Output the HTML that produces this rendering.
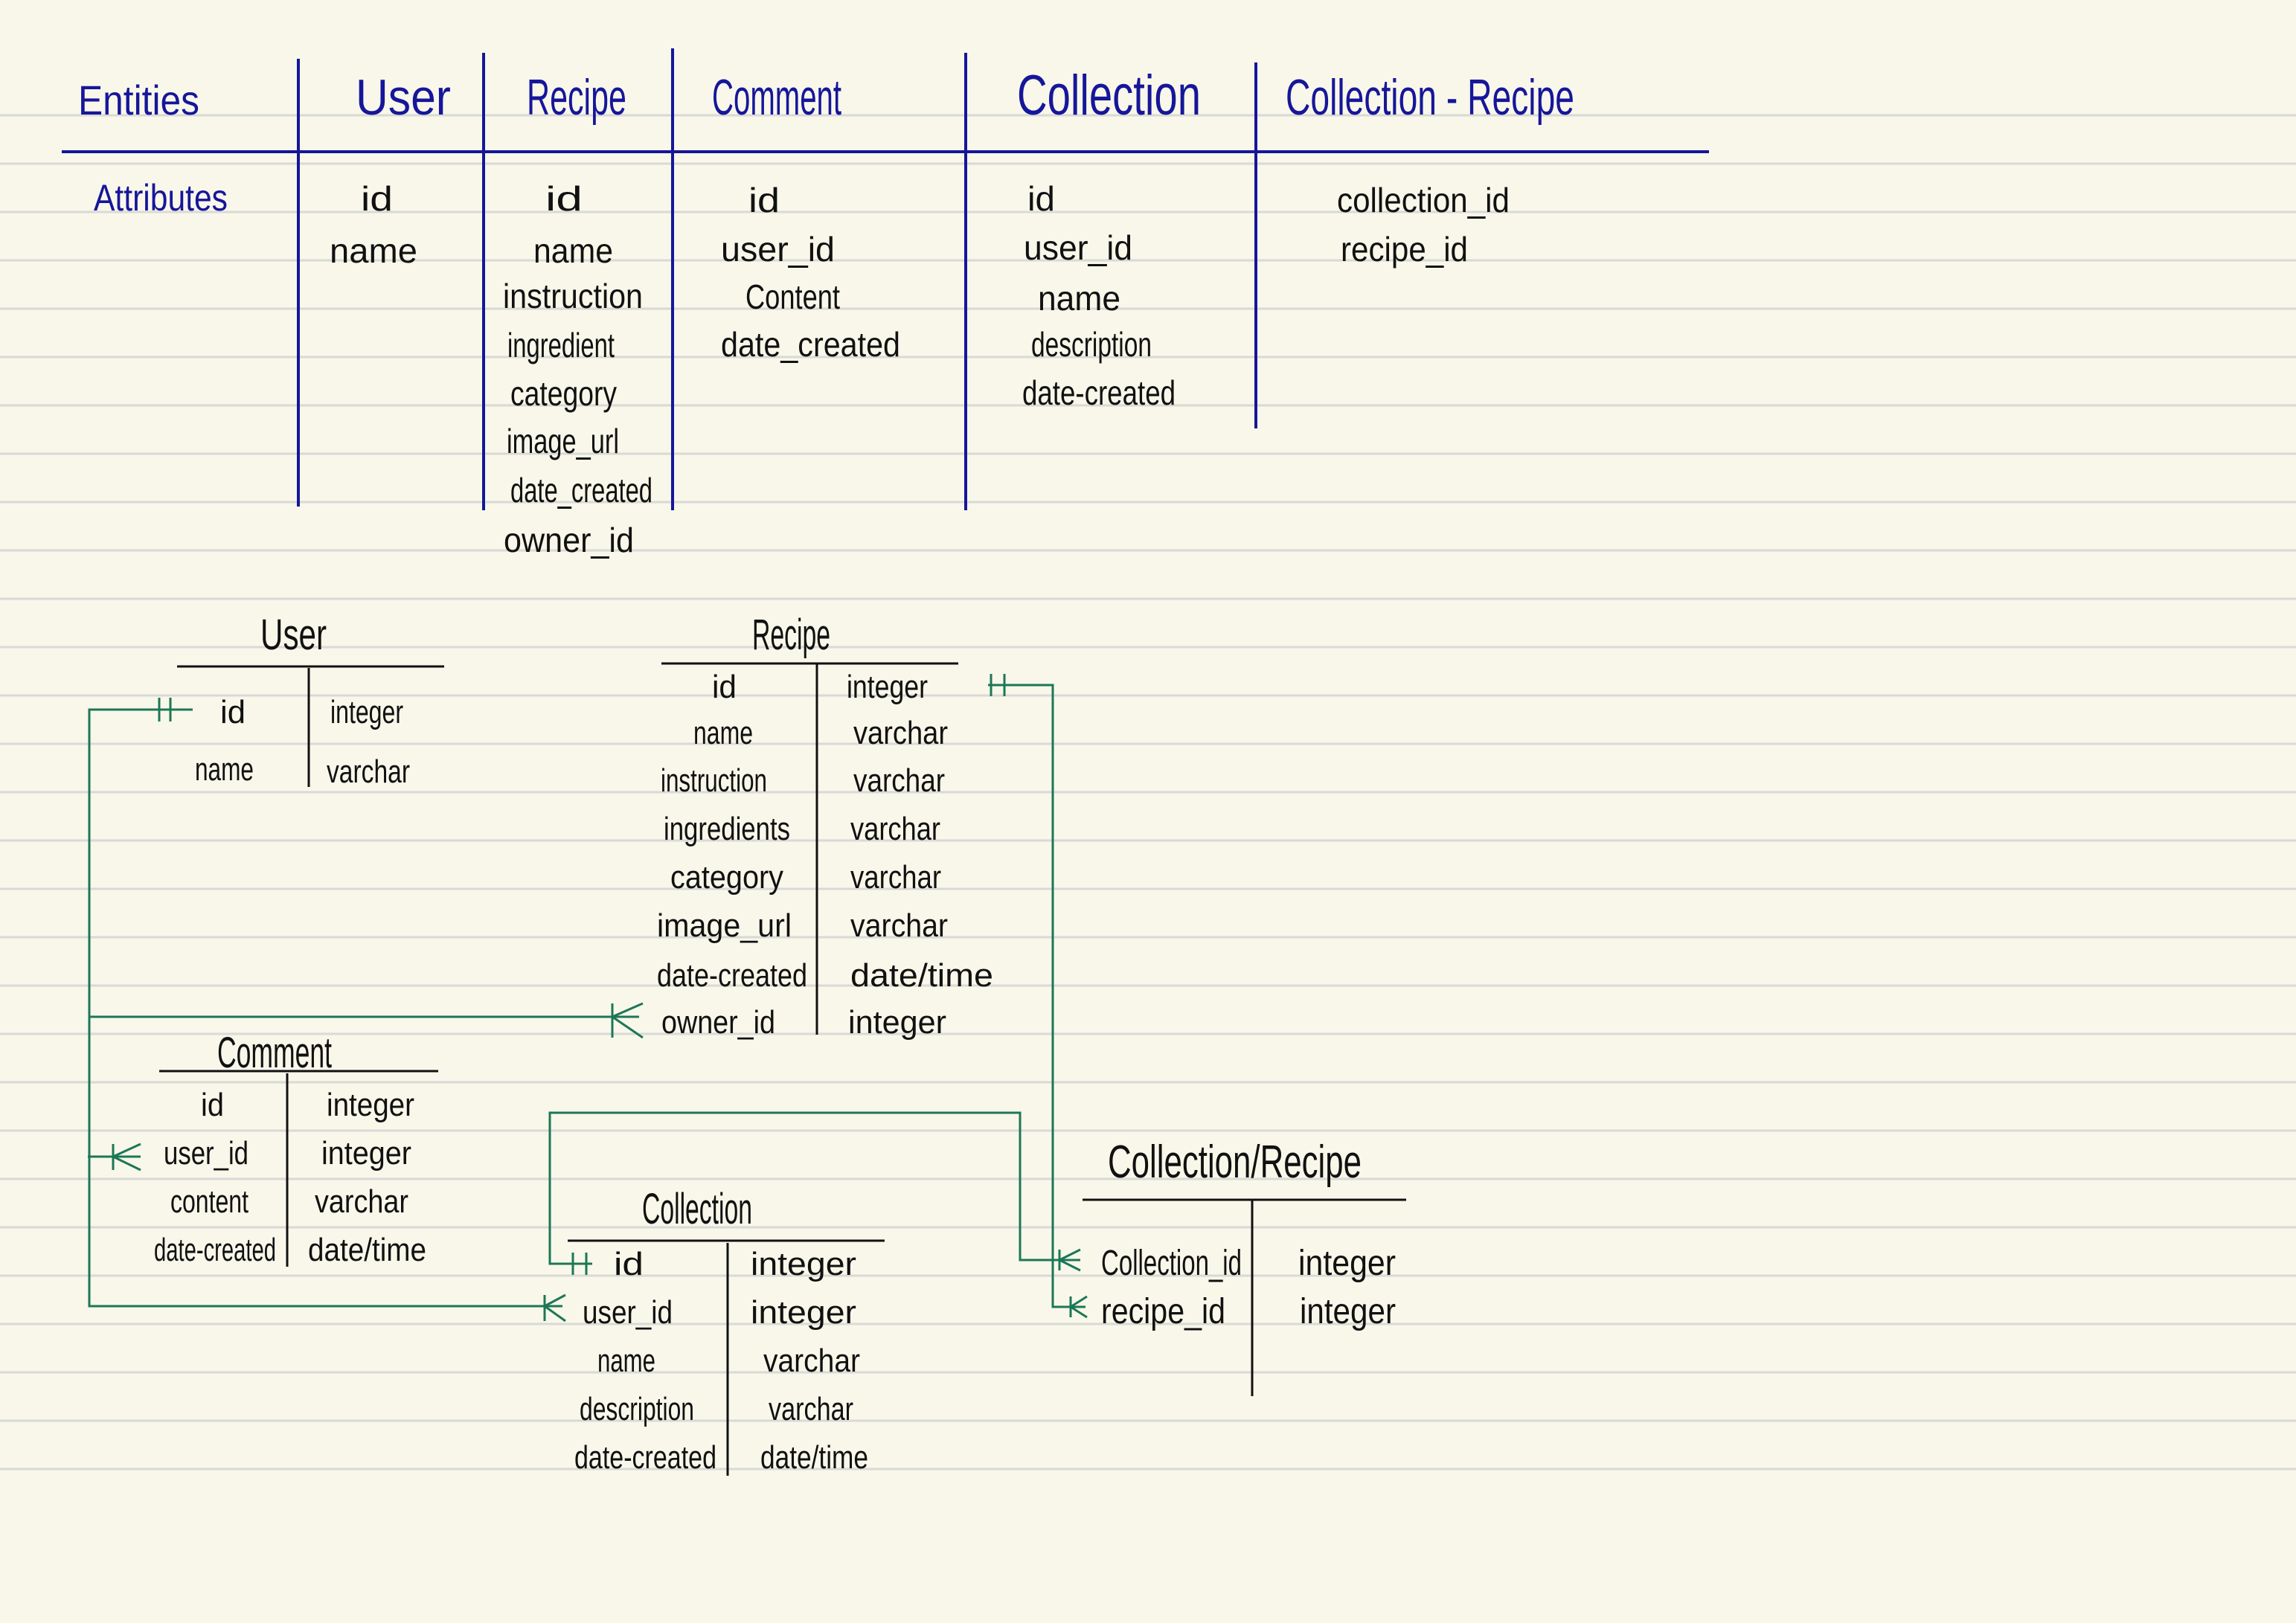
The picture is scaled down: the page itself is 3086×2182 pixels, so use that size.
<!DOCTYPE html>
<html><head><meta charset="utf-8"><style>
html,body{margin:0;padding:0;background:#f8f7ea;}
svg{display:block;}
text{font-family:"Liberation Sans","DejaVu Sans",sans-serif;}
.b{fill:#16169a;}
.k{fill:#111;}
</style></head><body>
<svg width="3086" height="2182" viewBox="0 0 3086 2182" xmlns="http://www.w3.org/2000/svg">
<rect width="3086" height="2182" fill="#f8f7ea"/>
<g stroke="#d9d9d6" stroke-width="3">
<line x1="0" y1="155" x2="3086" y2="155"/><line x1="0" y1="220" x2="3086" y2="220"/><line x1="0" y1="285" x2="3086" y2="285"/><line x1="0" y1="350" x2="3086" y2="350"/><line x1="0" y1="415" x2="3086" y2="415"/><line x1="0" y1="480" x2="3086" y2="480"/><line x1="0" y1="545" x2="3086" y2="545"/><line x1="0" y1="610" x2="3086" y2="610"/><line x1="0" y1="675" x2="3086" y2="675"/><line x1="0" y1="740" x2="3086" y2="740"/><line x1="0" y1="805" x2="3086" y2="805"/><line x1="0" y1="870" x2="3086" y2="870"/><line x1="0" y1="935" x2="3086" y2="935"/><line x1="0" y1="1000" x2="3086" y2="1000"/><line x1="0" y1="1065" x2="3086" y2="1065"/><line x1="0" y1="1130" x2="3086" y2="1130"/><line x1="0" y1="1195" x2="3086" y2="1195"/><line x1="0" y1="1260" x2="3086" y2="1260"/><line x1="0" y1="1325" x2="3086" y2="1325"/><line x1="0" y1="1390" x2="3086" y2="1390"/><line x1="0" y1="1455" x2="3086" y2="1455"/><line x1="0" y1="1520" x2="3086" y2="1520"/><line x1="0" y1="1585" x2="3086" y2="1585"/><line x1="0" y1="1650" x2="3086" y2="1650"/><line x1="0" y1="1715" x2="3086" y2="1715"/><line x1="0" y1="1780" x2="3086" y2="1780"/><line x1="0" y1="1845" x2="3086" y2="1845"/><line x1="0" y1="1910" x2="3086" y2="1910"/><line x1="0" y1="1975" x2="3086" y2="1975"/>
</g>

<!-- top table -->
<g stroke="#16169a" stroke-width="4">
<line x1="83" y1="204" x2="2297" y2="204"/>
<line x1="401" y1="79" x2="401" y2="681"/>
<line x1="650" y1="71" x2="650" y2="686"/>
<line x1="904" y1="65" x2="904" y2="686"/>
<line x1="1298" y1="71" x2="1298" y2="686"/>
<line x1="1688" y1="84" x2="1688" y2="576"/>
</g>
<g class="b" font-size="68">
<text x="105" y="154" textLength="163" lengthAdjust="spacingAndGlyphs" font-size="56">Entities</text>
<text x="478" y="154" textLength="128" lengthAdjust="spacingAndGlyphs">User</text>
<text x="708" y="154" textLength="134" lengthAdjust="spacingAndGlyphs">Recipe</text>
<text x="957" y="154" textLength="174" lengthAdjust="spacingAndGlyphs">Comment</text>
<text x="1367" y="154" textLength="247" lengthAdjust="spacingAndGlyphs" font-size="76">Collection</text>
<text x="1728" y="154" textLength="388" lengthAdjust="spacingAndGlyphs">Collection - Recipe</text>
<text x="126" y="283" textLength="180" lengthAdjust="spacingAndGlyphs" font-size="50">Attributes</text>
</g>
<g class="k" font-size="46">
<text x="485" y="283" textLength="43" lengthAdjust="spacingAndGlyphs">id</text>
<text x="443" y="353" textLength="118" lengthAdjust="spacingAndGlyphs">name</text>
<text x="733" y="283" textLength="50" lengthAdjust="spacingAndGlyphs">id</text>
<text x="717" y="353" textLength="107" lengthAdjust="spacingAndGlyphs">name</text>
<text x="676" y="414" textLength="188" lengthAdjust="spacingAndGlyphs">instruction</text>
<text x="682" y="480" textLength="144" lengthAdjust="spacingAndGlyphs">ingredient</text>
<text x="686" y="545" textLength="143" lengthAdjust="spacingAndGlyphs">category</text>
<text x="681" y="609" textLength="151" lengthAdjust="spacingAndGlyphs">image_url</text>
<text x="686" y="675" textLength="191" lengthAdjust="spacingAndGlyphs">date_created</text>
<text x="677" y="742" textLength="175" lengthAdjust="spacingAndGlyphs">owner_id</text>
<text x="1006" y="285" textLength="42" lengthAdjust="spacingAndGlyphs">id</text>
<text x="969" y="351" textLength="153" lengthAdjust="spacingAndGlyphs">user_id</text>
<text x="1002" y="415" textLength="127" lengthAdjust="spacingAndGlyphs">Content</text>
<text x="969" y="479" textLength="241" lengthAdjust="spacingAndGlyphs">date_created</text>
<text x="1381" y="283" textLength="37" lengthAdjust="spacingAndGlyphs">id</text>
<text x="1376" y="349" textLength="146" lengthAdjust="spacingAndGlyphs">user_id</text>
<text x="1395" y="417" textLength="111" lengthAdjust="spacingAndGlyphs">name</text>
<text x="1386" y="479" textLength="162" lengthAdjust="spacingAndGlyphs">description</text>
<text x="1374" y="544" textLength="206" lengthAdjust="spacingAndGlyphs">date-created</text>
<text x="1797" y="285" textLength="232" lengthAdjust="spacingAndGlyphs">collection_id</text>
<text x="1802" y="351" textLength="171" lengthAdjust="spacingAndGlyphs">recipe_id</text>
</g>

<!-- ER tables -->
<g stroke="#111" stroke-width="3">
<line x1="238" y1="896" x2="597" y2="896"/><line x1="415" y1="898" x2="415" y2="1058"/>
<line x1="889" y1="892" x2="1288" y2="892"/><line x1="1098" y1="892" x2="1098" y2="1391"/>
<line x1="214" y1="1440" x2="589" y2="1440"/><line x1="386" y1="1443" x2="386" y2="1703"/>
<line x1="763" y1="1668" x2="1189" y2="1668"/><line x1="978" y1="1671" x2="978" y2="1984"/>
<line x1="1455" y1="1613" x2="1890" y2="1613"/><line x1="1683" y1="1613" x2="1683" y2="1877"/>
</g>
<g class="k" font-size="44">
<text x="350" y="873" textLength="89" lengthAdjust="spacingAndGlyphs" font-size="58">User</text>
<text x="296" y="972" textLength="34" lengthAdjust="spacingAndGlyphs">id</text>
<text x="444" y="972" textLength="98" lengthAdjust="spacingAndGlyphs">integer</text>
<text x="262" y="1049" textLength="79" lengthAdjust="spacingAndGlyphs">name</text>
<text x="439" y="1052" textLength="112" lengthAdjust="spacingAndGlyphs">varchar</text>

<text x="1011" y="873" textLength="105" lengthAdjust="spacingAndGlyphs" font-size="58">Recipe</text>
<text x="957" y="938" textLength="33" lengthAdjust="spacingAndGlyphs">id</text>
<text x="932" y="1000" textLength="80" lengthAdjust="spacingAndGlyphs">name</text>
<text x="888" y="1064" textLength="143" lengthAdjust="spacingAndGlyphs">instruction</text>
<text x="892" y="1129" textLength="170" lengthAdjust="spacingAndGlyphs">ingredients</text>
<text x="901" y="1194" textLength="152" lengthAdjust="spacingAndGlyphs">category</text>
<text x="883" y="1259" textLength="181" lengthAdjust="spacingAndGlyphs">image_url</text>
<text x="883" y="1326" textLength="202" lengthAdjust="spacingAndGlyphs">date-created</text>
<text x="889" y="1389" textLength="153" lengthAdjust="spacingAndGlyphs">owner_id</text>
<text x="1138" y="938" textLength="109" lengthAdjust="spacingAndGlyphs">integer</text>
<text x="1147" y="1000" textLength="127" lengthAdjust="spacingAndGlyphs">varchar</text>
<text x="1147" y="1064" textLength="123" lengthAdjust="spacingAndGlyphs">varchar</text>
<text x="1143" y="1129" textLength="121" lengthAdjust="spacingAndGlyphs">varchar</text>
<text x="1143" y="1194" textLength="122" lengthAdjust="spacingAndGlyphs">varchar</text>
<text x="1143" y="1259" textLength="131" lengthAdjust="spacingAndGlyphs">varchar</text>
<text x="1143" y="1326" textLength="192" lengthAdjust="spacingAndGlyphs">date/time</text>
<text x="1140" y="1389" textLength="132" lengthAdjust="spacingAndGlyphs">integer</text>

<text x="292" y="1435" textLength="154" lengthAdjust="spacingAndGlyphs" font-size="58">Comment</text>
<text x="270" y="1500" textLength="31" lengthAdjust="spacingAndGlyphs">id</text>
<text x="220" y="1565" textLength="114" lengthAdjust="spacingAndGlyphs">user_id</text>
<text x="229" y="1630" textLength="105" lengthAdjust="spacingAndGlyphs">content</text>
<text x="207" y="1695" textLength="164" lengthAdjust="spacingAndGlyphs">date-created</text>
<text x="439" y="1500" textLength="118" lengthAdjust="spacingAndGlyphs">integer</text>
<text x="432" y="1565" textLength="121" lengthAdjust="spacingAndGlyphs">integer</text>
<text x="423" y="1630" textLength="126" lengthAdjust="spacingAndGlyphs">varchar</text>
<text x="414" y="1695" textLength="159" lengthAdjust="spacingAndGlyphs">date/time</text>

<text x="863" y="1645" textLength="148" lengthAdjust="spacingAndGlyphs" font-size="58">Collection</text>
<text x="825" y="1714" textLength="40" lengthAdjust="spacingAndGlyphs">id</text>
<text x="783" y="1779" textLength="121" lengthAdjust="spacingAndGlyphs">user_id</text>
<text x="803" y="1844" textLength="78" lengthAdjust="spacingAndGlyphs">name</text>
<text x="779" y="1909" textLength="154" lengthAdjust="spacingAndGlyphs">description</text>
<text x="772" y="1974" textLength="191" lengthAdjust="spacingAndGlyphs">date-created</text>
<text x="1009" y="1714" textLength="142" lengthAdjust="spacingAndGlyphs">integer</text>
<text x="1009" y="1779" textLength="142" lengthAdjust="spacingAndGlyphs">integer</text>
<text x="1026" y="1844" textLength="130" lengthAdjust="spacingAndGlyphs">varchar</text>
<text x="1033" y="1909" textLength="114" lengthAdjust="spacingAndGlyphs">varchar</text>
<text x="1022" y="1974" textLength="145" lengthAdjust="spacingAndGlyphs">date/time</text>

<text x="1489" y="1583" textLength="341" lengthAdjust="spacingAndGlyphs" font-size="62">Collection/Recipe</text>
<text x="1480" y="1714" textLength="189" lengthAdjust="spacingAndGlyphs" font-size="48">Collection_id</text>
<text x="1480" y="1779" textLength="167" lengthAdjust="spacingAndGlyphs" font-size="48">recipe_id</text>
<text x="1745" y="1714" textLength="131" lengthAdjust="spacingAndGlyphs" font-size="48">integer</text>
<text x="1747" y="1779" textLength="129" lengthAdjust="spacingAndGlyphs" font-size="48">integer</text>
</g>

<!-- connectors -->
<g stroke="#1c7757" stroke-width="3" fill="none">
<path d="M259,954 H120 V1756 H756"/>
<path d="M214,938 V970 M229,938 V970"/>
<path d="M120,1367 H859"/>
<path d="M823,1349 V1395 M823,1367 L864,1349 M823,1367 L864,1395"/>
<path d="M118,1555 H189"/>
<path d="M152,1538 V1573 M152,1555 L189,1538 M152,1555 L189,1573"/>
<path d="M732,1741 V1776 M732,1756 L760,1741 M732,1756 L760,1776"/>
<path d="M1328,921 H1415 V1757 H1459"/>
<path d="M1332,906 V936 M1350,906 V936"/>
<path d="M1439,1743 V1771 M1439,1757 L1461,1743 M1439,1757 L1461,1771"/>
<path d="M796,1699 H739 V1496 H1371 V1694 H1452"/>
<path d="M770,1684 V1714 M788,1684 V1714"/>
<path d="M1424,1680 V1708 M1424,1694 L1452,1680 M1424,1694 L1452,1708"/>
</g>
</svg>
</body></html>
